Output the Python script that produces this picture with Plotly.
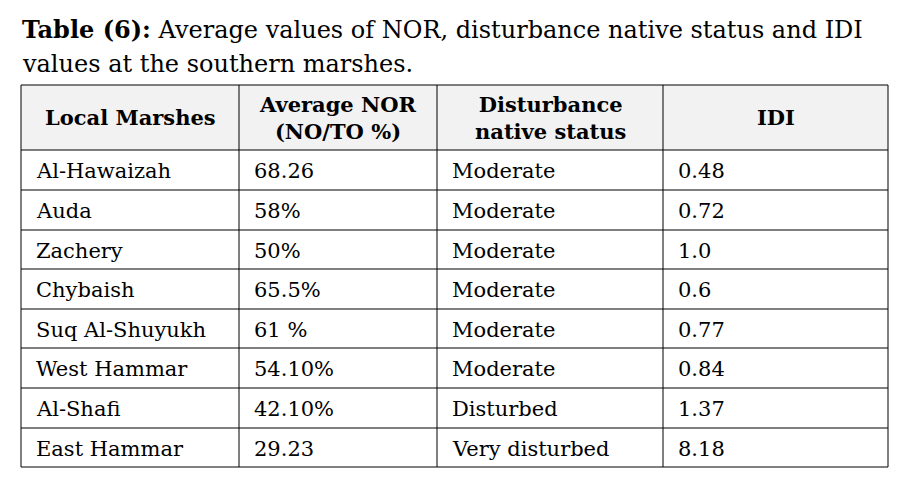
import plotly.graph_objects as go

marshes = ["Al-Hawaizah", "Auda", "Zachery", "Chybaish", "Suq Al-Shuyukh", "West Hammar", "Al-Shafi", "East Hammar"]
nor = ["68.26", "58%", "50%", "65.5%", "61 %", "54.10%", "42.10%", "29.23"]
status = ["Moderate"] * 6 + ["Disturbed", "Very disturbed"]
idi = ["0.48", "0.72", "1.0", "0.6", "0.77", "0.84", "1.37", "8.18"]
headers = ["Local Marshes", "Average NOR<br>(NO/TO %)", "Disturbance<br>native status", "IDI"]

W, H = 915, 492
OFF = 8  # page body margin
cols = [21, 239, 437, 663, 888]
top, hbot = 85, 150
rows = [150, 190, 230, 269, 309, 348, 388, 428, 467]
FONT = "DejaVu Serif"

fig = go.Figure()
shapes = [dict(type="rect", x0=cols[0], x1=cols[-1], y0=top, y1=hbot, fillcolor="#f2f2f2", line_width=0, layer="below")]
for x in cols:
    shapes.append(dict(type="line", x0=x, x1=x, y0=top, y1=rows[-1], line=dict(color="black", width=1)))
for y in [top] + rows:
    shapes.append(dict(type="line", x0=cols[0], x1=cols[-1], y0=y, y1=y, line=dict(color="black", width=1)))

ann = []
ann.append(dict(x=20, y=29, text="<b>Table (6):</b> Average values of NOR, disturbance native status and IDI",
                xanchor="left", yanchor="middle", font=dict(size=24, family=FONT, color="black"), showarrow=False))
ann.append(dict(x=20, y=64, text="values at the southern marshes.",
                xanchor="left", yanchor="middle", font=dict(size=24, family=FONT, color="black"), showarrow=False))
for i, h in enumerate(headers):
    ann.append(dict(x=(cols[i] + cols[i + 1]) / 2, y=(top + hbot) / 2, text=f"<b>{h}</b>",
                    xanchor="center", yanchor="middle", font=dict(size=21, family=FONT, color="black"), showarrow=False))
for r in range(len(marshes)):
    yc = (rows[r] + rows[r + 1]) / 2 + 1
    for c, val in enumerate([marshes[r], nor[r], status[r], idi[r]]):
        ann.append(dict(x=cols[c] + 13, y=yc, text=val, xanchor="left", yanchor="middle",
                        font=dict(size=21, family=FONT, color="black"), showarrow=False))

fig.update_layout(width=W, height=H, margin=dict(l=0, r=0, t=0, b=0),
                  paper_bgcolor="white", plot_bgcolor="white", shapes=shapes, annotations=ann,
                  xaxis=dict(range=[OFF, W + OFF], visible=False, fixedrange=True),
                  yaxis=dict(range=[H + OFF, OFF], visible=False, fixedrange=True), showlegend=False)
fig.write_html("out.html", config={"displayModeBar": False})
